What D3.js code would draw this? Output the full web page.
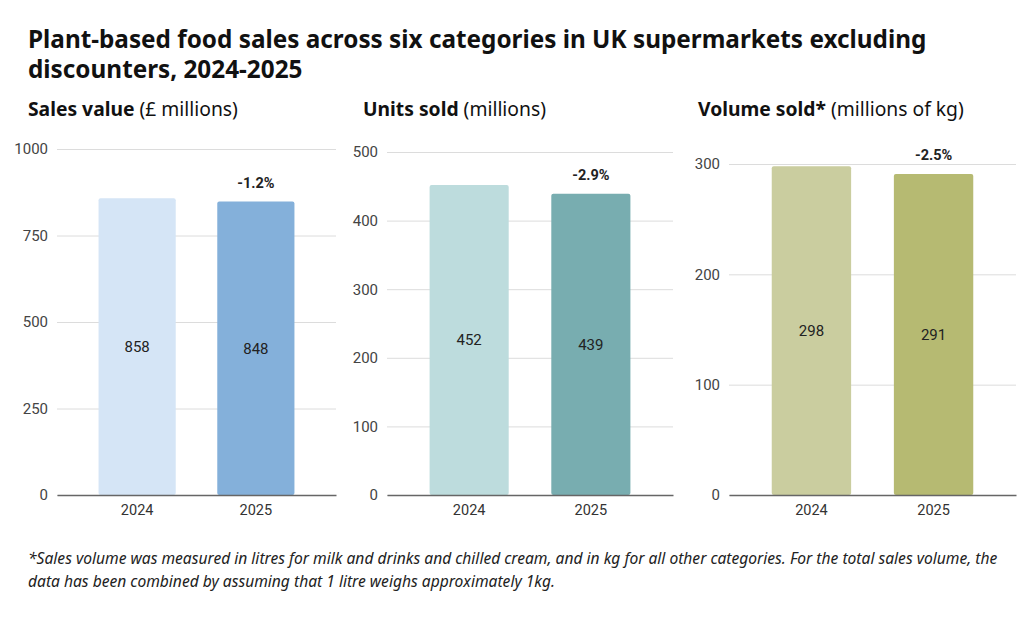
<!DOCTYPE html>
<html>
<head>
<meta charset="utf-8">
<script src="https://cdn.jsdelivr.net/npm/d3@7"></script>
<style>
body { margin: 0; background: #fff; }
svg text { font-family: "Noto Sans", sans-serif; }
</style>
</head>
<body>
<div id="chart"></div>
<script>
var years = ["2024", "2025"];
var salesValue = [858, 848];
var unitsSold = [452, 439];
var volumeSold = [298, 291];
var changes = ["-1.2%", "-2.9%", "-2.5%"];
var headBold = ["Sales value", "Units sold", "Volume sold*"];
var headRest = [" (£ millions)", " (millions)", " (millions of kg)"];
var yMax = [1000, 500, 300];
var yTicks = [[0, 250, 500, 750, 1000], [0, 100, 200, 300, 400, 500], [0, 100, 200, 300]];
var colours = [["#d5e5f6", "#84b0da"], ["#bddcdd", "#78adb0"], ["#cacd9f", "#b6ba72"]];
var series = [salesValue, unitsSold, volumeSold];

var svg = d3.select("#chart").append("svg")
  .attr("width", 1024)
  .attr("height", 619);

svg.append("text")
  .attr("x", 28).attr("y", 48)
  .style("font-size", "24.3px").style("font-weight", "700").style("fill", "#111")
  .text("Plant-based food sales across six categories in UK supermarkets excluding");
svg.append("text")
  .attr("x", 28).attr("y", 78)
  .style("font-size", "24.3px").style("font-weight", "700").style("fill", "#111")
  .text("discounters, 2024-2025");

// panel geometry
var panels = [
  {hx: 28, x0: 57, x1: 336, top: 149},
  {hx: 363, x0: 387, x1: 673, top: 152},
  {hx: 698, x0: 729, x1: 1016, top: 164}
];
var base = 495;

panels.forEach(function(p, i) {
  var head = svg.append("text")
    .attr("x", p.hx).attr("y", 116)
    .style("font-size", "19.3px").style("fill", "#111");
  head.append("tspan").style("font-weight", "700").text(headBold[i]);
  head.append("tspan").text(headRest[i]);

  var x = d3.scaleBand().domain(years).range([p.x0, p.x1]).padding(0.35);
  var y = d3.scaleLinear().domain([0, yMax[i]]).range([base, p.top]);

  var g = svg.append("g");

  g.append("g")
    .attr("transform", "translate(" + p.x0 + ",0)")
    .call(d3.axisLeft(y).tickValues(yTicks[i]).tickFormat(d3.format("d"))
      .tickSize(-(p.x1 - p.x0)).tickPadding(9))
    .call(function(a) {
      a.select(".domain").remove();
      a.selectAll(".tick line").attr("stroke", "#dcdcdc");
      a.selectAll(".tick text")
        .style("font-family", "Roboto, sans-serif")
        .style("font-size", "15px").style("fill", "#444");
    });

  var data = years.map(function(yr, j) { return {year: yr, value: series[i][j], j: j}; });

  g.selectAll("rect.bar")
    .data(data)
    .enter().append("rect")
    .attr("class", "bar")
    .attr("x", function(d) { return x(d.year); })
    .attr("y", function(d) { return y(d.value); })
    .attr("width", x.bandwidth())
    .attr("height", function(d) { return base - y(d.value); })
    .attr("rx", 2)
    .attr("fill", function(d) { return colours[i][d.j]; });

  g.selectAll("text.val")
    .data(data)
    .enter().append("text")
    .attr("class", "val")
    .attr("x", function(d) { return x(d.year) + x.bandwidth() / 2; })
    .attr("y", function(d) { return (y(d.value) + base) / 2; })
    .attr("dy", "0.35em")
    .attr("text-anchor", "middle")
    .style("font-family", "Roboto, sans-serif")
    .style("font-size", "15px").style("fill", "#222")
    .text(function(d) { return d.value; });

  g.append("text")
    .attr("x", x(years[1]) + x.bandwidth() / 2)
    .attr("y", y(series[i][1]) - 19)
    .attr("dy", "0.35em")
    .attr("text-anchor", "middle")
    .style("font-family", "Roboto, sans-serif")
    .style("font-size", "14.5px").style("font-weight", "700").style("fill", "#222")
    .text(changes[i]);

  g.append("g")
    .attr("transform", "translate(0," + base + ")")
    .call(d3.axisBottom(x).tickSize(0).tickPadding(10))
    .call(function(a) {
      a.select(".domain").attr("stroke", "#666").attr("stroke-width", 1.5);
      a.selectAll(".tick text")
        .style("font-family", "Roboto, sans-serif")
        .style("font-size", "14.5px").style("fill", "#333");
    });
});

svg.append("text")
  .attr("x", 28).attr("y", 564)
  .style("font-size", "15.6px").style("font-style", "italic").style("fill", "#222")
  .text("*Sales volume was measured in litres for milk and drinks and chilled cream, and in kg for all other categories. For the total sales volume, the");
svg.append("text")
  .attr("x", 28).attr("y", 587)
  .style("font-size", "15.6px").style("font-style", "italic").style("fill", "#222")
  .text("data has been combined by assuming that 1 litre weighs approximately 1kg.");
</script>
</body>
</html>
